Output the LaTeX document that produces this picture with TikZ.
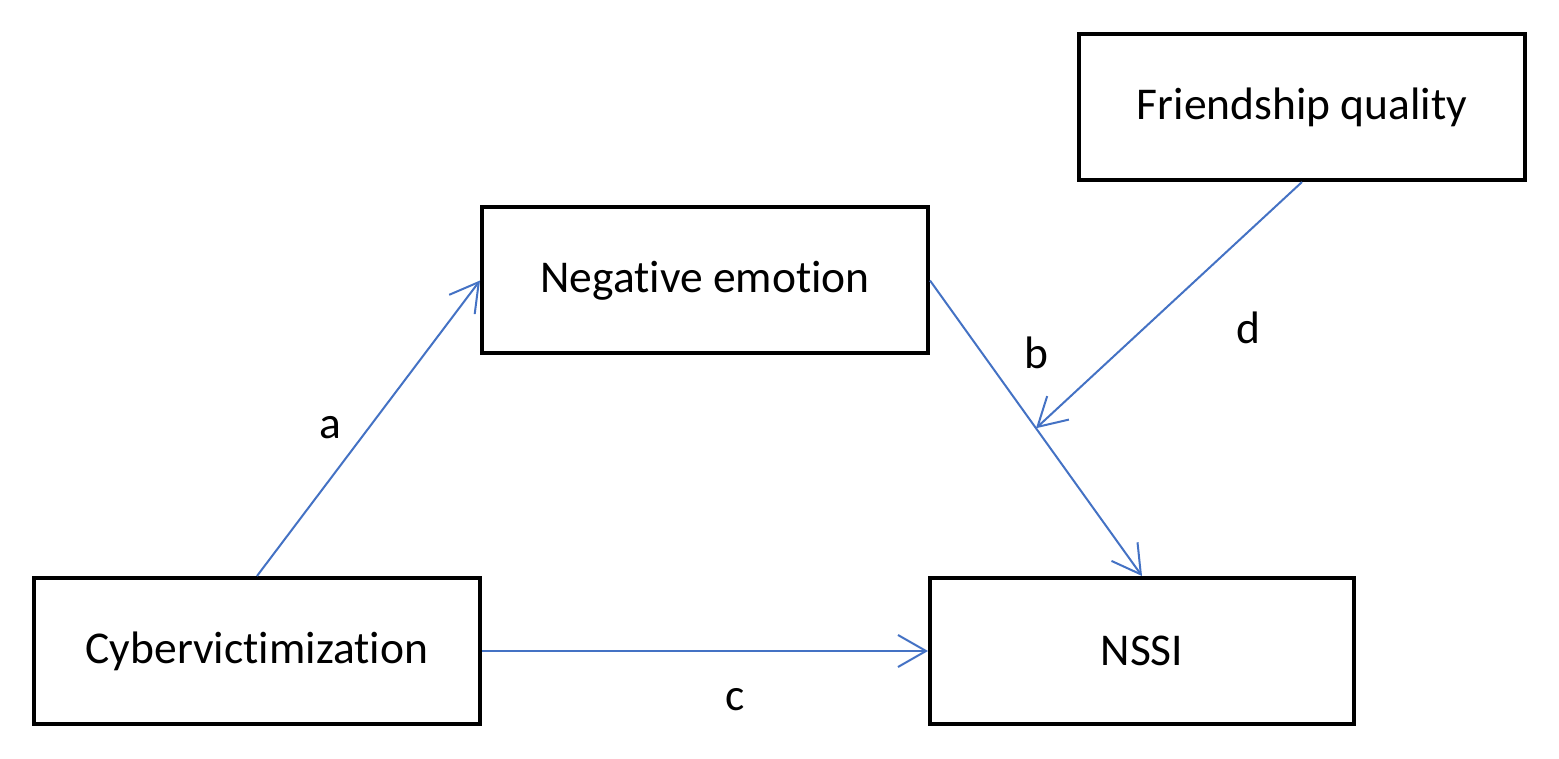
\documentclass[tikz,border=0pt]{standalone}
\usepackage{fontspec}
\setmainfont{Carlito}[Ligatures={NoCommon}]
\usetikzlibrary{arrows.meta}
\definecolor{linkblue}{HTML}{4472C4}
\begin{document}
\begin{tikzpicture}[x=1pt,y=-1pt,
  box/.style={draw=black,line width=4pt,rectangle,minimum height=146pt,inner sep=0pt,font=\fontsize{45.5}{54}\selectfont},
  link/.style={draw=linkblue,line width=2pt,-{Straight Barb[length=28pt,width=32pt,line width=2pt]}},
  lbl/.style={font=\fontsize{45.5}{54}\selectfont,inner sep=0pt}]
\useasboundingbox (0,0) rectangle (1559,759);
\node[box,minimum width=446pt] (fq) at (1302,107) {Friendship quality};
\node[box,minimum width=446pt] (ne) at (705,280.5) {Negative emotion};
\node[box,minimum width=446pt] (cv) at (257,651) {Cybervictimization};
\node[box,minimum width=424pt] (ns) at (1142,651) {NSSI};
\draw[link] (cv.north) -- (ne.west);
\draw[link] (ne.east) -- coordinate[pos=0.5] (mid) (ns.north);
\draw[link] (cv.east) -- (ns.west);
\draw[link] (fq.south) -- (mid);
\node[lbl] (la) at (330,428) {a};
\node[lbl] (lb) at (1036,353) {b};
\node[lbl] (lc) at (735,700) {c};
\node[lbl] (ld) at (1248,328) {d};
\end{tikzpicture}
\end{document}
